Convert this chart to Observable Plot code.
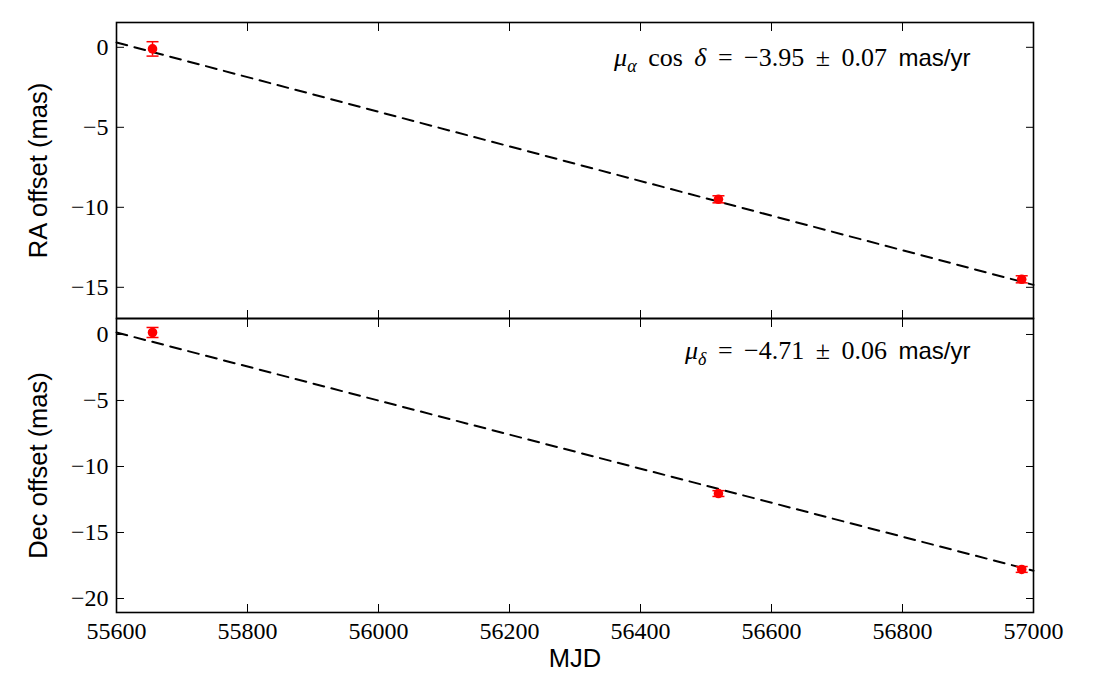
<!DOCTYPE html>
<html>
<head>
<meta charset="utf-8">
<script src="https://cdn.jsdelivr.net/npm/d3@7"></script>
<script src="https://cdn.jsdelivr.net/npm/@observablehq/plot@0.6"></script>
<style>
  html, body { margin: 0; padding: 0; background: #fff; }
  #chart svg { display: block; }
  #bottom { margin-top: -2px; }
</style>
</head>
<body>
<div id="chart"><div id="top"></div><div id="bottom"></div></div>
<script>
// ---- data ----
const xTicks = [55600, 55800, 56000, 56200, 56400, 56600, 56800, 57000];
const raTicks = [0, -5, -10, -15];
const decTicks = [0, -5, -10, -15, -20];
const epochs = [55655, 56519, 56982];
const raOffset = [-0.1, -9.5, -14.5];
const raErr = [0.45, 0.22, 0.22];
const decOffset = [0.15, -12.05, -17.8];
const decErr = [0.38, 0.22, 0.22];
const fitMJD = [55600, 57000];
const raFit = [0.3, -14.85];
const decFit = [0.15, -17.9];
const raLabel = "RA offset (mas)";
const decLabel = "Dec offset (mas)";
const xLabel = "MJD";
const raAnnot = [
  {t: "μ", italic: true}, {t: "α", italic: true, sub: true}, {t: " cos "}, {t: "δ", italic: true},
  {t: " = −3.95 ± 0.07 "}, {t: "mas/yr", sans: true}
];
const decAnnot = [
  {t: "μ", italic: true}, {t: "δ", italic: true, sub: true},
  {t: " = −4.71 ± 0.06 "}, {t: "mas/yr", sans: true}
];

const SERIF = "'Liberation Serif', 'DejaVu Serif', serif";
const SANS = "'Liberation Sans', Arial, sans-serif";
const W = 1120, ML = 116, MR = 87;

const capSymbol = {
  draw(context, size) {
    const r = Math.sqrt(size / Math.PI);
    context.moveTo(-r, 0);
    context.lineTo(r, 0);
  }
};

function panel({offset, err, fit, ticks, domain, height, marginTop, marginBottom, label, annot, annotDy, showX}) {
  const rows = epochs.map((m, i) => ({mjd: m, y: offset[i], lo: offset[i] - err[i], hi: offset[i] + err[i]}));
  const fitRows = fitMJD.map((m, i) => ({mjd: m, y: fit[i]}));
  const annotText = annot.map(d => d.t).join("");
  const marks = [
    Plot.line(fitRows, {x: "mjd", y: "y", stroke: "black", strokeWidth: 2, strokeDasharray: "11,7.5"}),
    Plot.ruleX(rows, {x: "mjd", y1: "lo", y2: "hi", stroke: "red", strokeWidth: 1.5}),
    Plot.dot(rows, {x: "mjd", y: "lo", symbol: capSymbol, r: 6, stroke: "red", strokeWidth: 1.5, fill: "none"}),
    Plot.dot(rows, {x: "mjd", y: "hi", symbol: capSymbol, r: 6, stroke: "red", strokeWidth: 1.5, fill: "none"}),
    Plot.dot(rows, {x: "mjd", y: "y", r: 4.8, fill: "red", stroke: "none"}),
    // inward ticks
    Plot.axisY({anchor: "left", ticks, tickSize: 8, dx: 8, text: null, label: null, strokeWidth: 1}),
    Plot.axisY({anchor: "right", ticks, tickSize: 8, dx: -8, text: null, label: null, strokeWidth: 1}),
    Plot.axisX({anchor: "bottom", ticks: xTicks, tickSize: 8, dy: -8, text: null, label: null, strokeWidth: 1}),
    Plot.axisX({anchor: "top", ticks: xTicks, tickSize: 8, dy: 8, text: null, label: null, strokeWidth: 1}),
    // tick labels
    Plot.axisY({anchor: "left", ticks, tickSize: 0, tickPadding: 8, tickFormat: "d", label: null,
      fontFamily: SERIF, fontSize: 24}),
    Plot.text([label], {frameAnchor: "left", rotate: -90, dx: -78, textAnchor: "middle", lineAnchor: "middle",
      fontFamily: SANS, fontSize: 25.5, fill: "black"}),
    Plot.text([annotText], {frameAnchor: "top-right", textAnchor: "end", lineAnchor: "middle",
      dx: -63, dy: annotDy, fontFamily: SERIF, fontSize: 26, fill: "black"}),
    Plot.frame({stroke: "black", strokeWidth: 1.6})
  ];
  if (showX) {
    marks.push(Plot.axisX({anchor: "bottom", ticks: xTicks, tickSize: 0, tickPadding: 9, tickFormat: "d", label: null,
      fontFamily: SERIF, fontSize: 24}));
    marks.push(Plot.text([xLabel], {frameAnchor: "bottom", dy: 46, lineAnchor: "middle", textAnchor: "middle",
      fontFamily: SANS, fontSize: 25.5, fill: "black"}));
  }
  const svg = Plot.plot({
    width: W, height, marginLeft: ML, marginRight: MR, marginTop, marginBottom,
    style: {background: "white", color: "black", overflow: "visible"},
    x: {domain: [55600, 57000], axis: null},
    y: {domain, axis: null},
    marks
  });
  // build rich annotation (italic symbols, subscript, sans unit)
  d3.select(svg).selectAll("text").filter(function() { return this.textContent === annotText; }).each(function() {
    const t = d3.select(this);
    t.text(null);
    let prevSub = false;
    annot.forEach(d => {
      const s = t.append("tspan").text(d.t);
      if (d.italic) s.attr("font-style", "italic");
      if (d.sub) s.attr("font-size", 18).attr("dy", 6);
      else if (prevSub) s.attr("dy", -6);
      if (d.sans) s.attr("font-family", SANS).attr("font-size", 24);
      else s.attr("word-spacing", 5);
      prevSub = !!d.sub;
    });
  });
  return svg;
}

document.getElementById("top").appendChild(panel({
  offset: raOffset, err: raErr, fit: raFit, ticks: raTicks, domain: [-16.95, 1.55],
  height: 319, marginTop: 22, marginBottom: 1, label: raLabel, annot: raAnnot, annotDy: 35, showX: false
}));
document.getElementById("bottom").appendChild(panel({
  offset: decOffset, err: decErr, fit: decFit, ticks: decTicks, domain: [-21.06, 1.21],
  height: 369, marginTop: 1, marginBottom: 74, label: decLabel, annot: decAnnot, annotDy: 32, showX: true
}));
</script>
</body>
</html>
